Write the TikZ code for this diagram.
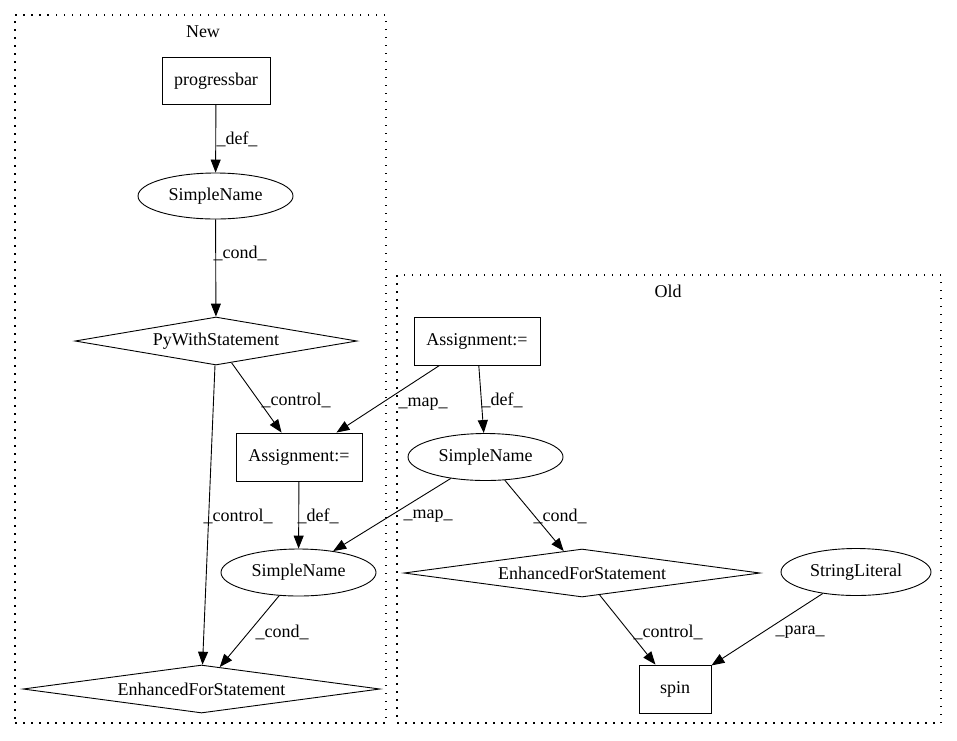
\documentclass[tikz,border=0pt]{standalone}
\usepackage{fontspec}
\setmainfont{Liberation Serif}
\usetikzlibrary{shapes.geometric,arrows.meta}
\tikzset{
  box/.style={draw, rectangle, inner sep=0pt, line width=0.9pt},
  ell/.style={draw, ellipse, inner sep=0pt, line width=0.9pt},
  dia/.style={draw, diamond, inner sep=0pt, line width=0.9pt},
  edgeline/.style={-{Triangle[length=13pt,width=10pt]}, line width=0.9pt},
  lbl/.style={inner sep=0pt},
  cluster/.style={draw, rectangle, dash pattern=on 1.5pt off 6.5pt, line width=1.2pt, inner sep=0pt}
}
\begin{document}
\begin{tikzpicture}[x=1pt,y=-1pt,font=\fontsize{18pt}{20pt}\selectfont]
\useasboundingbox[fill=white] (0,0) rectangle (957,740);
% clusters
\node[cluster, minimum width=371pt, minimum height=708pt] (newc) at (200.5,369) {};
\node[cluster, minimum width=544pt, minimum height=448pt] (oldc) at (669,499) {};
\node[lbl] (newlbl) at (203,32) {New};
\node[lbl] (oldlbl) at (668,291) {Old};
% New nodes
\node[box, minimum width=108pt, minimum height=47pt] (prog) at (216,81) {progressbar};
\node[ell, minimum width=155pt, minimum height=46pt] (sn1) at (215.5,196) {SimpleName};
\node[dia, shape aspect=5.875, minimum width=282pt, minimum height=48pt] (pw) at (216,341) {PyWithStatement};
\node[box, minimum width=126pt, minimum height=48pt] (an) at (299,457) {Assignment:=};
\node[ell, minimum width=155pt, minimum height=47pt] (sn) at (298.5,572.5) {SimpleName};
\node[dia, shape aspect=7.44, minimum width=357pt, minimum height=48pt] (efsN) at (201.5,689) {EnhancedForStatement};
% Old nodes
\node[box, minimum width=126pt, minimum height=48pt] (ao) at (477,341) {Assignment:=};
\node[ell, minimum width=155pt, minimum height=47pt] (so) at (485.5,457) {SimpleName};
\node[dia, shape aspect=7.42, minimum width=356pt, minimum height=48pt] (efsO) at (582,573) {EnhancedForStatement};
\node[ell, minimum width=150pt, minimum height=47pt] (sl) at (856,572) {StringLiteral};
\node[box, minimum width=72pt, minimum height=48pt] (spin) at (675,689) {spin};
% edges
\draw[edgeline] (prog) -- (sn1);
\draw[edgeline] (sn1) -- (pw);
\draw[edgeline] (pw) -- (an);
\draw[edgeline] (pw) -- (efsN);
\draw[edgeline] (an) -- (sn);
\draw[edgeline] (sn) -- (efsN);
\draw[edgeline] (ao) -- (an);
\draw[edgeline] (ao) -- (so);
\draw[edgeline] (so) -- (sn);
\draw[edgeline] (so) -- (efsO);
\draw[edgeline] (efsO) -- (spin);
\draw[edgeline] (sl) -- (spin);
% edge labels
\node[lbl] (l1) at (237,139) {\_def\_};
\node[lbl] (l2) at (240,253) {\_cond\_};
\node[lbl] (l3) at (296,400) {\_control\_};
\node[lbl] (l4) at (238,516) {\_control\_};
\node[lbl] (l5) at (318,516) {\_def\_};
\node[lbl] (l6) at (423,404) {\_map\_};
\node[lbl] (l7) at (502,400) {\_def\_};
\node[lbl] (l8) at (428,516) {\_map\_};
\node[lbl] (l9) at (560,516) {\_cond\_};
\node[lbl] (l10) at (282,632) {\_cond\_};
\node[lbl] (l11) at (668,632) {\_control\_};
\node[lbl] (l12) at (800,632) {\_para\_};
\end{tikzpicture}
\end{document}
